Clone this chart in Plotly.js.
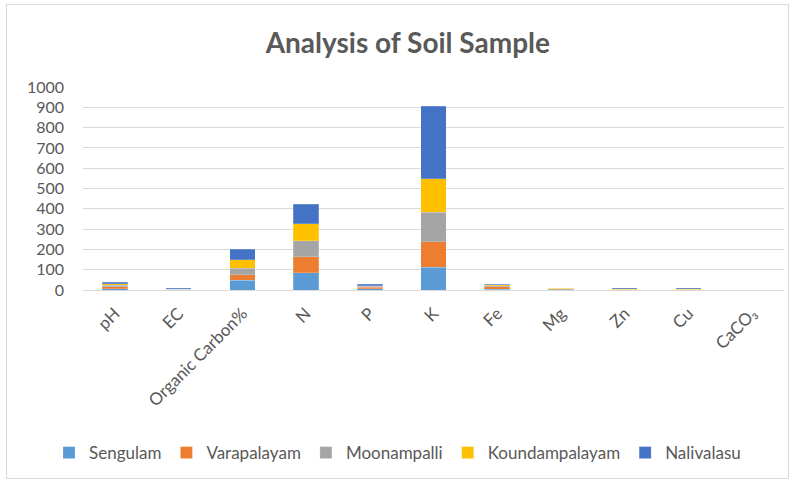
<!DOCTYPE html>
<html>
<head>
<meta charset="utf-8">
<script src="https://cdn.plot.ly/plotly-3.0.1.min.js"></script>
<style>
html,body{margin:0;padding:0;background:#fff;}
#chart{width:795px;height:483px;position:absolute;left:0;top:0;}
#frame{position:absolute;left:6px;top:4px;width:781px;height:473px;border:1px solid #d9d9d9;pointer-events:none;}
</style>
</head>
<body>
<div id="chart"></div>
<div id="frame"></div>
<script>
const categories = ["pH", "EC", "Organic Carbon%", "N", "P", "K", "Fe", "Mg", "Zn", "Cu", "CaCO₃"];
const seriesNames = ["Sengulam", "Varapalayam", "Moonampalli", "Koundampalayam", "Nalivalasu"];
const sengulam       = [7.4, 1.0, 49, 85, 5, 112, 4, 1, 0.8, 0.8, 0];
const varapalayam    = [7.8, 1.0, 25, 78, 9, 126, 11, 1, 0.8, 0.8, 0];
const moonampalli    = [7.6, 1.0, 33, 80, 4, 146, 6, 3, 0.8, 0.8, 0];
const koundampalayam = [7.2, 1.0, 42, 84, 3, 163, 4, 3, 0.8, 0.8, 0];
const nalivalasu     = [7.9, 4.0, 51, 95, 7, 359, 3, 3, 4.5, 4.5, 0];
const colors = ["#5b9bd5", "#ed7d31", "#a5a5a5", "#ffc000", "#4472c4"];
const yTicks = [0,100,200,300,400,500,600,700,800,900,1000];

const allSeries = [sengulam, varapalayam, moonampalli, koundampalayam, nalivalasu];
const traces = allSeries.map((vals, i) => ({
  type: "bar",
  name: seriesNames[i],
  x: categories,
  y: vals,
  marker: {color: colors[i], line: {color: "rgba(255,255,255,0.5)", width: 0.4}},
  hoverinfo: "x+y+name"
}));

const layout = {
  width: 795, height: 483,
  barmode: "stack",
  bargap: 0.6,
  paper_bgcolor: "#fff",
  plot_bgcolor: "#fff",
  margin: {l: 83, r: 11, t: 87, b: 193},
  title: {
    text: "<b>Analysis of Soil Sample</b>",
    font: {family: "Lato, 'Open Sans', sans-serif", size: 28, color: "#595959"},
    x: 0.513, xref: "container", xanchor: "center",
    y: 0.91, yref: "container", yanchor: "middle"
  },
  font: {family: "Lato, 'Open Sans', sans-serif", color: "#595959"},
  xaxis: {
    type: "category",
    tickangle: -45,
    tickfont: {size: 17, color: "#595959"},
    showgrid: false,
    showline: true, linecolor: "#d9d9d9", linewidth: 1,
    ticks: "", zeroline: false,
    ticklabelstandoff: 6
  },
  yaxis: {
    range: [0, 1000],
    tickvals: yTicks,
    ticktext: yTicks.map(String),
    tickfont: {size: 16, color: "#595959"},
    showgrid: true, gridcolor: "#d9d9d9", gridwidth: 1,
    showline: false, zeroline: false, ticks: "",
    ticklabelstandoff: 18
  },
  legend: {
    orientation: "h",
    x: 0.5, xanchor: "center", xref: "container",
    y: 0.062, yanchor: "middle", yref: "container",
    font: {size: 17, color: "#595959"},
    traceorder: "normal",
    itemwidth: 30
  },
  showlegend: true
};

Plotly.newPlot("chart", traces, layout, {displayModeBar: false, staticPlot: true});
</script>
</body>
</html>
